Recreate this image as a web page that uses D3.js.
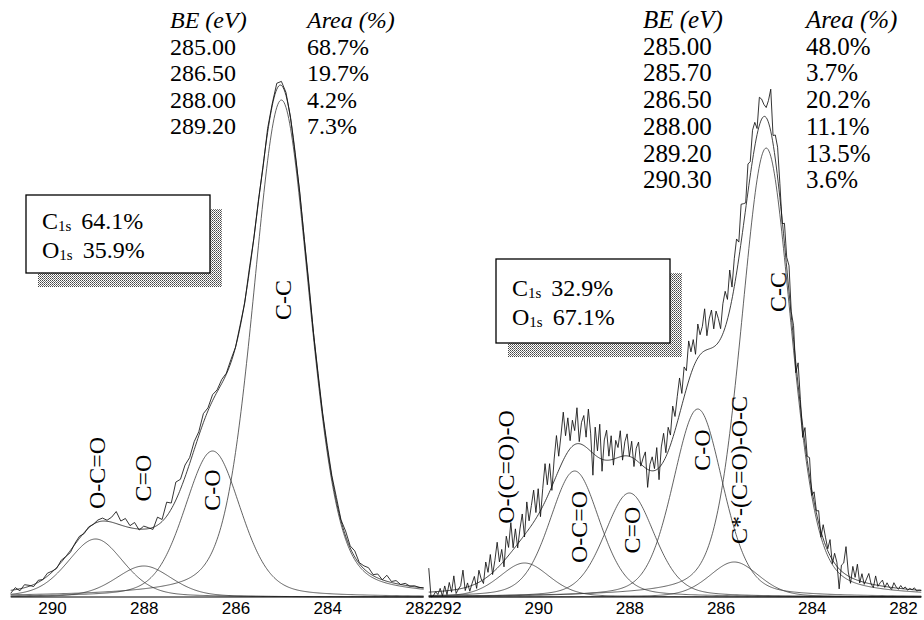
<!DOCTYPE html>
<html>
<head>
<meta charset="utf-8">
<script src="https://cdn.jsdelivr.net/npm/d3@7"></script>
<style>
body { margin: 0; background: #fff; }
text { fill: #000; }
</style>
</head>
<body>
<svg id="chart" width="924" height="620"></svg>
<script>
// ---- left spectrum: fitted C1s components ----
var leftTableBE = ["285.00", "286.50", "288.00", "289.20"];
var leftArea = ["68.7%", "19.7%", "4.2%", "7.3%"];
var leftCenter = [285.00, 286.50, 288.00, 289.05];   // where the fitted peaks sit in the plot
var leftHeight = [497, 146, 31, 58];
var leftNames = ["C-C", "C-O", "C=O", "O-C=O"];
var leftFwhm = 1.45;
var leftRatio = ["C", "64.1%", "O", "35.9%"];
var leftTicks = [290, 288, 286, 284, 282];

// raw spectrum, 290.9 -> 281.9 eV every 0.1 eV, read as offsets from the fit
var leftStart = 290.9, leftStep = 0.1;
var leftResidual = [
  -3, 2, -2, 3, 1, -2, 2, 0, 3, 1,
  -1, 2, 0, -2, 1, 2, -1, 1, 0, 2,
  3, 1, 5, 12, 4, 8, 2, 6, -1, 3,
  1, -2, 8, 2, 14, 6, 18, 10, 12, 6,
  8, 4, 9, 3, 6, 2, 4, 1, 3, 0,
  2, -1, 3, 0, 2, -2, 4, 2, 6, 4,
  3, 1, -2, 2, 0, 3, -1, 2, 1, 3,
  2, 4, 1, 5, 2, 6, 1, 3, 5, 1,
  4, 0, 6, 1, 3, 0, 2, 0, 1, 0, 0
];

// ---- right spectrum ----
var rightTableBE = ["285.00", "285.70", "286.50", "288.00", "289.20", "290.30"];
var rightArea = ["48.0%", "3.7%", "20.2%", "11.1%", "13.5%", "3.6%"];
var rightCenter = [285.00, 285.70, 286.50, 288.00, 289.20, 290.30];
var rightHeight = [449, 35, 188, 104, 126, 34];
var rightNames = ["C-C", "C*-(C=O)-O-C", "C-O", "C=O", "O-C=O", "O-(C=O)-O"];
var rightFwhm = 1.3;
var rightRatio = ["C", "32.9%", "O", "67.1%"];
var rightTicks = [292, 290, 288, 286, 284, 282];

// raw spectrum, 292.40 -> 281.60 eV every 0.05 eV, offsets from the fit
var rightStart = 292.4, rightStep = 0.05;
var rightResidual = [
  24, -6, -4, 0, -3, 3, -5, 5, -4, 8,
  -2, 14, -4, 0, 3, 18, -3, 4, -5, 2,
  8, -5, 12, 2, -4, 16, 4, 20, -2, 10,
  26, 4, 14, -6, 22, 8, 30, 2, 18, -4,
  12, 24, -2, 30, 8, 20, 32, 6, 26, -6,
  18, 38, 12, 28, -4, 22, 40, 14, 30, 48,
  20, 34, 8, 26, 14, 36, 2, 22, 30, 10,
  40, 18, -22, 28, 6, 34, -12, 20, 30, 4,
  24, -6, 18, 10, 26, -4, 14, 22, 0, 16,
  -8, 12, 20, -2, 8, 16, -18, 6, 14, 2,
  22, -12, 18, 28, 4, 24, 10, 32, 14, 26,
  36, 12, 30, 18, 40, 22, 28, 8, 34, 20,
  26, 42, 14, 30, 38, 18, 34, 24, 10, 30,
  36, 20, 40, 12, 28, 34, 16, 38, 22, 6,
  28, 14, 30, 24, 6, 28, 20, 12, 10, 22,
  42, 8, 24, 30, 14, -4, 20, 10, 26, 4,
  14, -10, 22, 6, -12, 16, 4, 18, -6, 10,
  2, 12, -6, 14, 8, 2, 16, -4, 10, 4,
  -20, 6, 10, 28, 4, -6, 12, 2, 16, -2,
  8, -2, 4, 10, 0, -3, 9, -1, 3, 6,
  -1, 4, 0, -2, 5, 1, -1, 3, 0, 2,
  -1, 1, 0, 2, -1, 0, 0
];

var lorentzMix = 0.3;

// ---- layout ----
var svg = d3.select("#chart");
var baseY = 597;
var y = d3.scaleLinear().domain([0, 540]).range([baseY, 57]);

var serif = "'Liberation Serif', 'Times New Roman', serif";
var sans = "'Liberation Sans', Arial, sans-serif";

var defs = svg.append("defs");
var pat = defs.append("pattern").attr("id", "stipple")
  .attr("width", 2).attr("height", 2).attr("patternUnits", "userSpaceOnUse");
pat.append("rect").attr("width", 2).attr("height", 2).attr("fill", "#fff");
pat.append("rect").attr("width", 1).attr("height", 1).attr("fill", "#444");
pat.append("rect").attr("x", 1).attr("y", 1).attr("width", 1).attr("height", 1).attr("fill", "#777");

function glPeak(e, c, h, w) {
  var t = (e - c) / w;
  return h * ((1 - lorentzMix) * Math.exp(-4 * Math.LN2 * t * t) + lorentzMix / (1 + 4 * t * t));
}

function drawPanel(p) {
  var x = d3.scaleLinear().domain(p.tickEnds).range(p.tickRange);
  var n = p.residual.length;
  var endBE = p.start - (n - 1) * p.step;
  var fine = d3.range(0, Math.round((p.start - endBE) / 0.02) + 1).map(function(i) { return p.start - i * 0.02; });

  var line = d3.line().x(function(d) { return x(d[0]); }).y(function(d) { return y(d[1]); });
  var g = svg.append("g");

  // components
  p.center.forEach(function(c, k) {
    var pts = fine.map(function(e) { return [e, glPeak(e, c, p.height[k], p.fwhm)]; });
    g.append("path").attr("d", line(pts))
      .attr("fill", "none").attr("stroke", "#3a3a3a").attr("stroke-width", 0.8);
  });

  function envelope(e) {
    return d3.sum(p.center, function(c, k) { return glPeak(e, c, p.height[k], p.fwhm); });
  }

  // envelope
  g.append("path").attr("d", line(fine.map(function(e) { return [e, envelope(e)]; })))
    .attr("fill", "none").attr("stroke", "#2a2a2a").attr("stroke-width", 0.9);

  // raw data
  var raw = p.residual.map(function(r, i) {
    var e = p.start - i * p.step;
    return [e, Math.max(0, envelope(e) + r)];
  });
  g.append("path").attr("d", line(raw))
    .attr("fill", "none").attr("stroke", "#111").attr("stroke-width", 0.85);

  // baseline + axis
  g.append("line").attr("x1", x(p.start)).attr("x2", x(endBE))
    .attr("y1", baseY).attr("y2", baseY).attr("stroke", "#000").attr("stroke-width", 1.2);
  var ax = svg.append("g").attr("transform", "translate(0," + baseY + ")")
    .call(d3.axisBottom(x).tickValues(p.ticks).tickSize(0).tickPadding(5).tickFormat(d3.format("d")));
  ax.select(".domain").remove();
  ax.selectAll("text").attr("font-family", sans).attr("font-size", 17).attr("fill", "#000");

  // peak labels
  p.names.forEach(function(name, k) {
    var lx = x(p.labelBE[k]), ly = p.labelY[k];
    svg.append("text").attr("transform", "translate(" + lx + "," + ly + ") rotate(-90)")
      .attr("text-anchor", "middle").attr("dominant-baseline", "central")
      .attr("font-family", serif).attr("font-size", 24).text(name);
  });

  // table
  var t = svg.append("g").attr("font-family", serif).attr("font-size", p.tableFont);
  t.append("text").attr("x", p.tableX[0]).attr("y", p.tableY).attr("font-style", "italic").text("BE (eV)");
  t.append("text").attr("x", p.tableX[1]).attr("y", p.tableY).attr("font-style", "italic").text("Area (%)");
  p.tableBE.forEach(function(be, k) {
    t.append("text").attr("x", p.tableX[0]).attr("y", p.tableY + (k + 1) * p.rowH).text(be);
    t.append("text").attr("x", p.tableX[1]).attr("y", p.tableY + (k + 1) * p.rowH).text(p.area[k]);
  });

  // composition box
  var b = p.box;
  svg.append("rect").attr("x", b[0] + 12).attr("y", b[1] + 14).attr("width", b[2]).attr("height", b[3])
    .attr("fill", "url(#stipple)");
  svg.append("rect").attr("x", b[0]).attr("y", b[1]).attr("width", b[2]).attr("height", b[3])
    .attr("fill", "#fff").attr("stroke", "#000").attr("stroke-width", 1.3);
  [0, 1].forEach(function(r) {
    var tx = svg.append("text").attr("x", b[0] + 16).attr("y", b[1] + p.boxTextY + r * 29)
      .attr("font-family", serif).attr("font-size", 24);
    tx.append("tspan").text(p.ratio[r * 2]);
    tx.append("tspan").attr("font-size", 15).attr("dy", 2).text("1s");
    tx.append("tspan").attr("dy", -2).attr("dx", 10).text(p.ratio[r * 2 + 1]);
  });
}

drawPanel({
  tableBE: leftTableBE, center: leftCenter, area: leftArea, height: leftHeight, names: leftNames,
  fwhm: leftFwhm, ratio: leftRatio, ticks: leftTicks,
  start: leftStart, step: leftStep, residual: leftResidual,
  tickEnds: [290, 282], tickRange: [52, 419],
  labelBE: [284.96, 286.51, 288.02, 289.02], labelY: [300, 490, 478, 473],
  tableX: [170, 307], tableY: 28, rowH: 26.5, tableFont: 24,
  box: [26, 195, 184, 78], boxTextY: 34
});

drawPanel({
  tableBE: rightTableBE, center: rightCenter, area: rightArea, height: rightHeight, names: rightNames,
  fwhm: rightFwhm, ratio: rightRatio, ticks: rightTicks,
  start: rightStart, step: rightStep, residual: rightResidual,
  tickEnds: [292, 282], tickRange: [447, 903],
  labelBE: [284.75, 285.6, 286.4, 287.95, 289.1, 290.7], labelY: [292, 470, 450, 530, 527, 467],
  tableX: [643, 806], tableY: 28, rowH: 26.7, tableFont: 25,
  box: [496, 259, 174, 84], boxTextY: 37
});
</script>
</body>
</html>
